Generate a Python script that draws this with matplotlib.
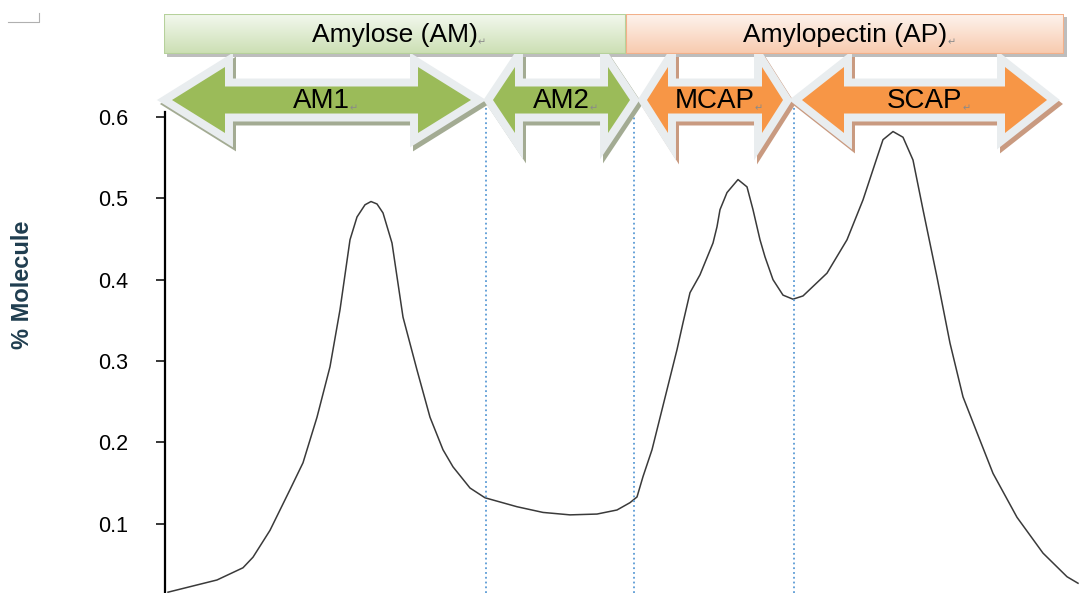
import numpy as np
import matplotlib
matplotlib.use("Agg")
import matplotlib.pyplot as plt
from matplotlib.patches import Polygon, Rectangle
from matplotlib.colors import LinearSegmentedColormap
from matplotlib.lines import Line2D
from matplotlib.text import Annotation
import matplotlib.transforms as mtransforms

plt.rcParams['font.family'] = ['Liberation Sans', 'DejaVu Sans']

# chain-length axis (arbitrary units) and % molecule
x_pos = [3, 52, 78, 88, 105, 125, 138, 152, 165, 175, 185, 192, 200, 206, 212,
         218, 227, 238, 252, 265, 278, 288, 305, 320, 352, 378, 405, 432, 452,
         465, 472, 478, 487, 512, 518, 525, 535, 548, 552, 555, 562, 573, 582,
         588, 595, 600, 608, 618, 628, 638, 662, 682, 698, 712, 718, 728, 738,
         748, 758, 772, 785, 798, 812, 828, 852, 878, 902, 913]
molecule = [0.016, 0.031, 0.046, 0.059, 0.092, 0.142, 0.175, 0.231, 0.293, 0.363,
            0.449, 0.477, 0.492, 0.496, 0.493, 0.482, 0.445, 0.354, 0.289, 0.231,
            0.191, 0.170, 0.144, 0.132, 0.121, 0.114, 0.111, 0.112, 0.117, 0.126,
            0.133, 0.158, 0.191, 0.314, 0.347, 0.384, 0.406, 0.445, 0.465, 0.486,
            0.507, 0.523, 0.514, 0.486, 0.449, 0.428, 0.400, 0.381, 0.376, 0.380,
            0.408, 0.449, 0.498, 0.550, 0.572, 0.582, 0.575, 0.547, 0.486, 0.403,
            0.322, 0.256, 0.212, 0.162, 0.108, 0.064, 0.035, 0.027]

# fractions and their extent along x
region_names = ['AM1', 'AM2', 'MCAP', 'SCAP']
region_left = [7, 328, 482, 637]
region_right = [306, 465, 618, 882]
boundaries = [321, 469, 629]
group_names = ['Amylose (AM)', 'Amylopectin (AP)']

y_ticks = [0.1, 0.2, 0.3, 0.4, 0.5, 0.6]

W, H = 1082, 593
fig = plt.figure(figsize=(W / 100, H / 100), dpi=100)
ax = fig.add_axes([165 / W, 0, 917 / W, 481 / H])

ax.plot(x_pos, molecule, color='#3a3a3a', lw=1.1, solid_joinstyle='round')
ax.set_xlim(0, 917)
ax.set_ylim(0.015, 0.606)
for s in ['top', 'right', 'bottom']:
    ax.spines[s].set_visible(False)
ax.spines['left'].set_linewidth(1.6)
ax.set_xticks([])
ax.set_yticks(y_ticks)
ax.set_yticklabels([f'{t:.1f}' for t in y_ticks])
ax.tick_params(axis='y', length=6.5, width=1.1, pad=20, labelsize=15.5)
ax.set_ylabel('% Molecule', fontsize=17, fontweight='bold', color='#1f3d4f')
ax.yaxis.set_label_coords(-131 / 917, 0.64)

for b in boundaries:
    ax.axvline(b, ymin=0, ymax=1.021, color='#5b9bd5', ls=':', lw=1.3, clip_on=False)

# double-headed block arrows
tr = mtransforms.blended_transform_factory(ax.transData, fig.transFigure)
shadow_tr = tr + mtransforms.ScaledTranslation(3 / 100, -4 / 100, fig.dpi_scale_trans)


def fy(p):
    return 1 - p / H


def return_mark(t, z):
    a = Annotation('\u21b5', xy=(1, 0.12), xycoords=t, fontsize=7, color='#8a8a8a',
                   family='DejaVu Sans', annotation_clip=False, zorder=z)
    fig.add_artist(a)


heads = [53, 22, 21, 42]
fills = ['#9bbb59', '#9bbb59', '#f79646', '#f79646']
shadows = ['#a3ab93', '#a3ab93', '#c99a80', '#c99a80']
yc, hh, sh = 100, 33, 13.5
for name, x0, x1, hl, fc, sc in zip(region_names, region_left, region_right,
                                     heads, fills, shadows):
    verts = [(x0, fy(yc)), (x0 + hl, fy(yc - hh)), (x0 + hl, fy(yc - sh)),
             (x1 - hl, fy(yc - sh)), (x1 - hl, fy(yc - hh)), (x1, fy(yc)),
             (x1 - hl, fy(yc + hh)), (x1 - hl, fy(yc + sh)), (x0 + hl, fy(yc + sh)),
             (x0 + hl, fy(yc + hh))]
    fig.patches.append(Polygon(verts, closed=True, transform=shadow_tr, fc=sc, ec=sc,
                               lw=11.5, joinstyle='miter', zorder=1))
    fig.patches.append(Polygon(verts, closed=True, transform=tr, fc='#e9edef',
                               ec='#e9edef', lw=11.5, joinstyle='miter', zorder=2))
    fig.patches.append(Polygon(verts, closed=True, transform=tr, fc=fc, ec='none',
                               zorder=3))
    t = fig.text(0, fy(yc + 1), name, transform=tr, fontsize=20, ha='center',
                 va='center', zorder=4)
    t.set_x((x0 + x1) / 2)
    return_mark(t, 4)

# group banners
banners = [(164, 626, '#f3f8ee', '#cbdfb3', '#b6d19b'),
           (626, 1064, '#fdf3ed', '#f8caae', '#f2b08a')]
for name, (bx0, bx1, top, bot, edge) in zip(group_names, banners):
    fig.patches.append(Rectangle(((bx0 + 3) / W, fy(57)), (bx1 - bx0) / W, 40 / H,
                                 transform=fig.transFigure, fc='#bdbdbd', ec='none',
                                 zorder=1))
    bax = fig.add_axes([bx0 / W, fy(54), (bx1 - bx0) / W, 40 / H])
    bax.set_zorder(5)
    cmap = LinearSegmentedColormap.from_list('g', [bot, top])
    bax.imshow(np.linspace(0, 1, 64)[:, None], cmap=cmap, aspect='auto',
               extent=[0, 1, 0, 1], origin='lower')
    bax.add_patch(Rectangle((0, 0), 1, 1, transform=bax.transAxes, fill=False,
                            ec=edge, lw=1.5))
    bax.set_axis_off()
    t = bax.text(0.5, 0.47, name, transform=bax.transAxes, fontsize=19,
                 ha='center', va='center')
    bax.annotate('\u21b5', xy=(1, 0.1), xycoords=t, fontsize=7, color='#8a8a8a',
                 family='DejaVu Sans', annotation_clip=False)

# small page-corner mark
fig.lines.append(Line2D([8 / W, 39 / W, 39 / W], [fy(22), fy(22), fy(13)],
                        transform=fig.transFigure, color='#b0b0b0', lw=0.8))

fig.savefig('out.png', dpi=100)
